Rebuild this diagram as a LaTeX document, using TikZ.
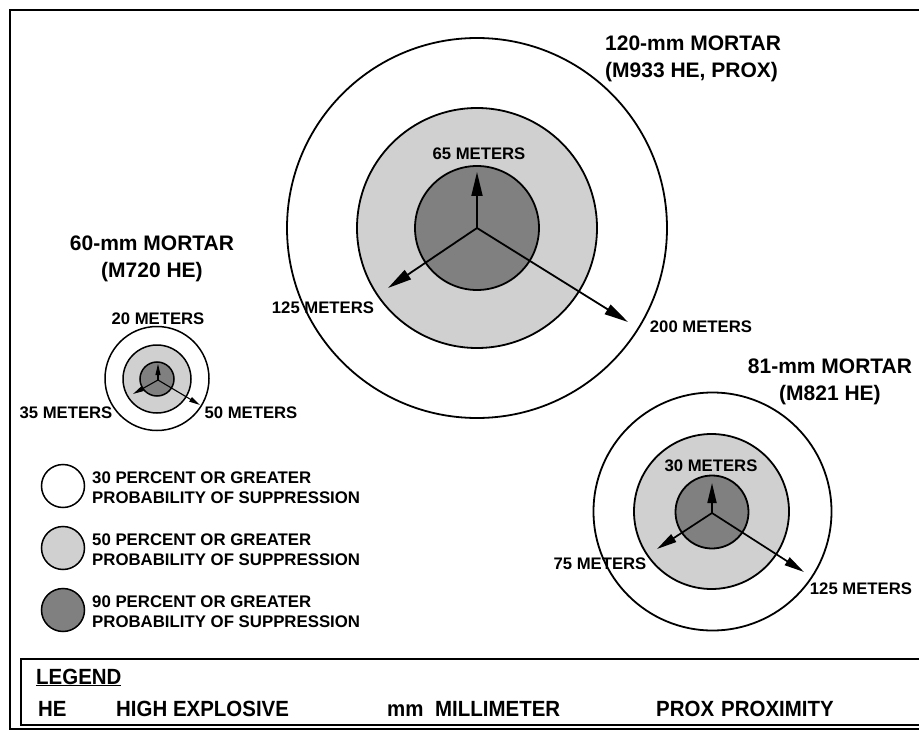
\documentclass[tikz,border=0pt]{standalone}
\usepackage{fontspec}
\setmainfont{Liberation Sans}
\usetikzlibrary{arrows.meta}
\definecolor{lightfill}{RGB}{208,208,208}
\definecolor{darkfill}{RGB}{128,128,128}
\newcommand{\narrowtxt}[1]{\scalebox{0.93}[1]{#1}}
\begin{document}
\begin{tikzpicture}[x=1pt,y=-1pt,
  ring/.style={circle, draw=black, line width=1.8pt, inner sep=0pt, minimum size=#1},
  thinring/.style={circle, draw=black, line width=1.5pt, inner sep=0pt, minimum size=#1},
  bigarr/.style={line width=1.8pt, -{Triangle[length=24pt,width=11pt]}},
  midarr/.style={line width=1.7pt, -{Triangle[length=20pt,width=9pt]}},
  smallarr/.style={line width=1.1pt, -{Triangle[length=11pt,width=5pt]}},
  title/.style={font=\fontsize{21}{25}\selectfont\bfseries, inner sep=0pt},
  lab/.style={font=\fontsize{16.7}{20}\selectfont\bfseries, inner sep=0pt},
  legtxt/.style={font=\fontsize{16.8}{20}\selectfont\bfseries, inner sep=0pt, anchor=base west},
  abbr/.style={font=\fontsize{22}{26}\selectfont\bfseries, inner sep=0pt, anchor=base west}
]
\useasboundingbox (0,0) rectangle (919,733);
\fill[white] (0,0) rectangle (919,733);
\clip (0,0) rectangle (919,733);

% frames
\draw[line width=2.5pt] (10,10) rectangle (960,729);
\draw[line width=2pt] (21,659) rectangle (960,725);

% ---------------- 120-mm
\node[ring=380pt, fill=white] (o120) at (477,228) {};
\node[ring=240pt, fill=lightfill] (m120) at (477,228) {};
\node[ring=124pt, fill=darkfill] (i120) at (477,228) {};
\coordinate (c120) at (477,228);
\coordinate (u120) at (477,172);
\coordinate (l120) at (388,288);
\coordinate (r120) at (628,322);
\draw[bigarr] (c120) -- (u120);
\draw[bigarr] (c120) -- (l120);
\draw[bigarr] (c120) -- (r120);
\node[title, anchor=base west] (t120a) at (605,50.5) {120-mm MORTAR};
\node[title, anchor=base west] (t120b) at (605,78) {(M933 HE, PROX)};
\node[lab, anchor=base] (d65) at (479,160) {65 METERS};
\node[lab, anchor=base] (d125a) at (323,313) {125 METERS};
\node[lab, anchor=base] (d200) at (701,332) {200 METERS};

% ---------------- 60-mm
\node[thinring=104pt, fill=white] (o60) at (157,378.5) {};
\node[thinring=68pt, fill=lightfill] (m60) at (157,379) {};
\node[thinring=34pt, fill=darkfill] (i60) at (157,379) {};
\coordinate (c60) at (158,380);
\coordinate (u60) at (158,364);
\coordinate (l60) at (133,394);
\coordinate (r60) at (200,405);
\draw[smallarr] (c60) -- (u60);
\draw[smallarr] (c60) -- (l60);
\draw[smallarr] (c60) -- (r60);
\node[title, anchor=base] (t60a) at (152,251) {60-mm MORTAR};
\node[title, anchor=base] (t60b) at (152,277) {(M720 HE)};
\node[lab, anchor=base] (d20) at (158,324) {20 METERS};
\node[lab, anchor=base] (d35) at (66,418) {35 METERS};
\node[lab, anchor=base] (d50) at (251,418) {50 METERS};

% ---------------- 81-mm
\node[ring=238pt, fill=white] (o81) at (712.5,511.5) {};
\node[ring=155pt, fill=lightfill] (m81) at (711.5,511.5) {};
\node[ring=73pt, fill=darkfill] (i81) at (712,512) {};
\coordinate (c81) at (712,513);
\coordinate (u81) at (712,483);
\coordinate (l81) at (657,549);
\coordinate (r81) at (804,572);
\draw[midarr] (c81) -- (u81);
\draw[midarr] (c81) -- (l81);
\draw[midarr] (c81) -- (r81);
\node[title, anchor=base] (t81a) at (830,373) {81-mm MORTAR};
\node[title, anchor=base] (t81b) at (830,400) {(M821 HE)};
\node[lab, anchor=base] (d30) at (711,471) {30 METERS};
\node[lab, anchor=base] (d75) at (600,569) {75 METERS};
\node[lab, anchor=base] (d125b) at (861,594) {125 METERS};

% ---------------- key
\node[thinring=43pt, fill=white] (k30) at (63,486) {};
\node[thinring=43pt, fill=lightfill] (k50) at (63,548) {};
\node[thinring=43pt, fill=darkfill] (k90) at (63,610) {};
\node[legtxt] (k30a) at (92,483) {30 PERCENT OR GREATER};
\node[legtxt] (k30b) at (92,503) {PROBABILITY OF SUPPRESSION};
\node[legtxt] (k50a) at (92,545) {50 PERCENT OR GREATER};
\node[legtxt] (k50b) at (92,565) {PROBABILITY OF SUPPRESSION};
\node[legtxt] (k90a) at (92,607) {90 PERCENT OR GREATER};
\node[legtxt] (k90b) at (92,627) {PROBABILITY OF SUPPRESSION};

% ---------------- legend
\node[abbr] (leg) at (36,684) {\narrowtxt{\underline{LEGEND}}};
\node[abbr] (he) at (38,716) {\narrowtxt{HE}};
\node[abbr] (hetx) at (116,716) {\narrowtxt{HIGH EXPLOSIVE}};
\node[abbr] (mm) at (387,716) {\narrowtxt{mm}};
\node[abbr] (mmtx) at (435,716) {\narrowtxt{MILLIMETER}};
\node[abbr] (px) at (656,716) {\narrowtxt{PROX}};
\node[abbr] (pxtx) at (721,716) {\narrowtxt{PROXIMITY}};
\end{tikzpicture}
\end{document}
